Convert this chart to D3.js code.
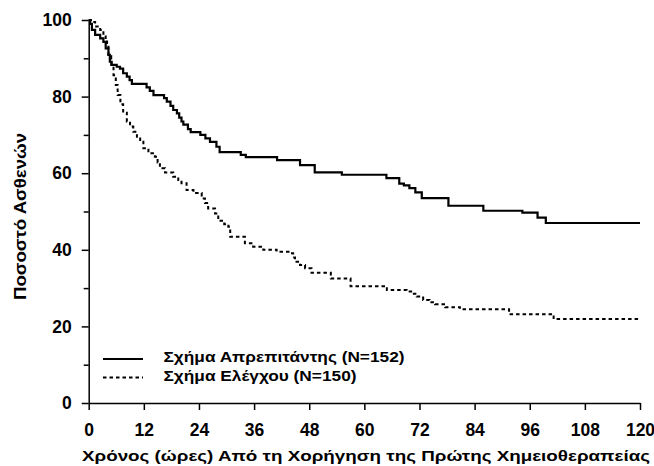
<!DOCTYPE html>
<html>
<head>
<meta charset="utf-8">
<script src="https://cdn.jsdelivr.net/npm/d3@7"></script>
<style>
  html, body { margin: 0; padding: 0; background: #fff; }
  svg { display: block; }
  text { font-family: "Liberation Sans", Arial, sans-serif; font-weight: bold; fill: #000; }
</style>
</head>
<body>
<svg id="chart" width="654" height="466"></svg>
<script>
// ---- data ----
const xTicks = [0, 12, 24, 36, 48, 60, 72, 84, 96, 108, 120];
const yTicks = [0, 20, 40, 60, 80, 100];
const yMinorTicks = [10, 30, 50, 70, 90];

const seriesNames = ["Σχήμα Απρεπιτάντης (N=152)", "Σχήμα Ελέγχου (N=150)"];
const xTitle = "Χρόνος (ώρες) Από τη Χορήγηση της Πρώτης Χημειοθεραπείας";
const yTitle = "Ποσοστό Ασθενών";

// Aprepitant regimen (hours, % patients)
const aprepitantTimes = [0, 0.3, 0.7, 1.4, 2.5, 3.2, 3.7, 4.3, 4.6, 5.0, 6.1, 6.8, 7.5, 8.3, 8.9, 9.4,
  12.6, 13.3, 14.1, 16.4, 17.0, 17.8, 18.4, 19.2, 19.7, 20.2, 20.6, 21.6, 22.2, 24.3, 25.4, 26.4,
  27.8, 28.5, 33.1, 34.2, 41.0, 46.0, 49.2, 55.1, 64.8, 67.6, 68.6, 69.8, 71.1, 72.5, 78.3, 85.9,
  94.4, 97.7, 99.5, 120];
const aprepitantPct = [100, 99, 97.4, 96.1, 95.2, 94.3, 92.6, 90.9, 89.1, 88.3, 87.8, 87.3, 86.1, 85.2, 84.3, 83.3,
  82.4, 81.5, 80.4, 79.6, 78.7, 77.6, 76.5, 75.6, 74.5, 73.5, 72.7, 71.5, 70.7, 70.0, 69.1, 68.2,
  66.9, 65.5, 64.8, 64.2, 63.4, 62.1, 60.2, 59.6, 58.7, 57.3, 56.8, 56.1, 55.0, 53.5, 51.5, 50.2,
  49.7, 48.4, 47.0, 47.0];

// Control regimen (hours, % patients)
const controlTimes = [0, 0.5, 1.4, 2.5, 3.2, 3.7, 4.0, 4.3, 4.9, 5.4, 5.9, 6.3, 6.9, 7.5, 8.3, 9.0, 9.7,
  10.5, 11.2, 11.9, 13.0, 14.4, 15.0, 15.5, 16.6, 18.4, 19.5, 20.2, 21.3, 22.8, 24.6, 25.3, 26.0,
  27.5, 28.2, 29.5, 30.4, 30.8, 34.0, 35.8, 38.0, 40.9, 43.8, 44.5, 44.9, 46.0, 47.1, 48.5, 52.7,
  57.0, 64.9, 69.2, 70.5, 71.4, 72.8, 74.2, 75.4, 77.6, 80.8, 91.5, 101.2, 120];
const controlPct = [100, 99.5, 98.3, 97.4, 96.1, 94.8, 93, 90.6, 88.3, 85.6, 83, 80.4, 78, 75.8, 73.5, 72.2, 70.8,
  69.5, 68.2, 66.5, 65.2, 64.3, 62.8, 61.3, 60.2, 59.1, 58.2, 57.4, 55.6, 54.8, 53.4, 52.2, 50.8,
  49.5, 47.6, 46.7, 46, 43.4, 41.7, 40.8, 40, 39.5, 39.1, 38, 36.9, 36, 35.2, 34, 32.5,
  30.5, 29.5, 29.1, 28.5, 27.8, 26.9, 26.3, 25.8, 25, 24.5, 23.2, 21.9, 21.9];

// ---- drawing ----
const svg = d3.select("#chart");
svg.append("rect").attr("width", 654).attr("height", 466).attr("fill", "#fff");

const x = d3.scaleLinear().domain([0, 120]).range([88.7, 640]);
const y = d3.scaleLinear().domain([0, 100]).range([403, 20]);

// minor y ticks
const gMinor = svg.append("g").attr("transform", `translate(${x(0)},0)`)
  .call(d3.axisLeft(y).tickValues(yMinorTicks).tickSize(5).tickFormat(""));
gMinor.select(".domain").remove();

// y axis
const gy = svg.append("g").attr("transform", `translate(${x(0)},0)`)
  .call(d3.axisLeft(y).tickValues(yTicks).tickSize(7).tickSizeOuter(0).tickPadding(10));
gy.selectAll("text").style("font-size", "17.5px").style("font-family", "'Liberation Sans', Arial, sans-serif").style("font-weight", "bold");

// x axis
const gx = svg.append("g").attr("transform", `translate(0,${y(0)})`)
  .call(d3.axisBottom(x).tickValues(xTicks).tickSize(7).tickSizeOuter(0).tickPadding(14));
gx.selectAll("text").style("font-size", "17.5px").style("font-family", "'Liberation Sans', Arial, sans-serif").style("font-weight", "bold");

svg.selectAll(".domain, .tick line").attr("stroke", "#000").attr("stroke-width", 1.5);

// curves
const line = d3.line().x(d => x(d[0])).y(d => y(d[1])).curve(d3.curveStepAfter);
const aprepData = aprepitantTimes.map((t, i) => [t, aprepitantPct[i]]);
const controlData = controlTimes.map((t, i) => [t, controlPct[i]]);

svg.append("path").datum(controlData).attr("d", line)
  .attr("fill", "none").attr("stroke", "#000").attr("stroke-width", 2)
  .attr("stroke-dasharray", "3.5,3");
svg.append("path").datum(aprepData).attr("d", line)
  .attr("fill", "none").attr("stroke", "#000").attr("stroke-width", 2.2);

// legend
const legend = svg.append("g");
legend.append("line").attr("x1", 103).attr("x2", 143).attr("y1", 359).attr("y2", 359)
  .attr("stroke", "#000").attr("stroke-width", 2.2);
legend.append("line").attr("x1", 103).attr("x2", 143).attr("y1", 377.5).attr("y2", 377.5)
  .attr("stroke", "#000").attr("stroke-width", 2).attr("stroke-dasharray", "3.5,3");
legend.append("text").attr("x", 163.5).attr("y", 361.7).style("font-size", "15px")
  .attr("textLength", 241).attr("lengthAdjust", "spacingAndGlyphs").text(seriesNames[0]);
legend.append("text").attr("x", 163.5).attr("y", 380.5).style("font-size", "15px")
  .attr("textLength", 193).attr("lengthAdjust", "spacingAndGlyphs").text(seriesNames[1]);

// axis titles
svg.append("text").attr("x", 82).attr("y", 461).style("font-size", "15.5px")
  .attr("textLength", 568).attr("lengthAdjust", "spacingAndGlyphs").text(xTitle);
svg.append("text").attr("transform", "translate(26,300) rotate(-90)")
  .style("font-size", "16px")
  .attr("textLength", 167).attr("lengthAdjust", "spacingAndGlyphs").text(yTitle);
</script>
</body>
</html>
